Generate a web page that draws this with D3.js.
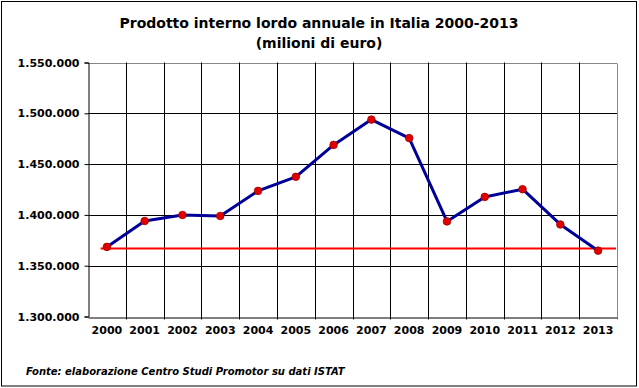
<!DOCTYPE html>
<html>
<head>
<meta charset="utf-8">
<script src="https://cdn.jsdelivr.net/npm/d3@7"></script>
<style>
	body { margin: 0; background: #fff; }
	svg { display: block; font-family: "DejaVu Sans", Verdana, sans-serif; }
</style>
</head>
<body>
<script>
	// PIL annuale, milioni di euro
	var years = ['2000', '2001', '2002', '2003', '2004', '2005', '2006',
		'2007', '2008', '2009', '2010', '2011', '2012', '2013'],
		gdp = [1368500, 1394000, 1399900, 1398900, 1423600, 1437500, 1468900,
			1493800, 1475600, 1393600, 1417700, 1425300, 1390600, 1364800],
		refLevel = [1367000],
		yTicks = [1300000, 1350000, 1400000, 1450000, 1500000, 1550000],
		titleLines = ['Prodotto interno lordo annuale in Italia 2000-2013', '(milioni di euro)'],
		source = 'Fonte: elaborazione Centro Studi Promotor su dati ISTAT';

	var width = 639,
		height = 388,
		plotLeft = 88,
		plotRight = 617,
		plotTop = 62.5,
		plotBottom = 316.5;

	var svg = d3.select('body').append('svg')
		.attr('width', width)
		.attr('height', height);

	// cornice esterna
	svg.append('rect')
		.attr('x', 1.5).attr('y', 1.5)
		.attr('width', 635).attr('height', 384.5)
		.attr('fill', 'none')
		.attr('stroke', '#000')
		.attr('stroke-width', 1);

	svg.selectAll('text.title')
		.data(titleLines)
		.enter().append('text')
		.attr('class', 'title')
		.attr('x', 319)
		.attr('y', function(d, i) { return 28 + i * 20; })
		.attr('text-anchor', 'middle')
		.attr('font-size', '14px')
		.attr('font-weight', 'bold')
		.text(function(d) { return d; });

	var x = d3.scaleBand().domain(years).range([plotLeft, plotRight]),
		y = d3.scaleLinear().domain([1300000, 1550000]).range([plotBottom, plotTop]);

	var it = d3.formatLocale({decimal: ',', thousands: '.', grouping: [3], currency: ['', '€']}),
		fmt = it.format(',.0f');

	// griglia orizzontale
	svg.append('g')
		.selectAll('line')
		.data(yTicks.slice(1))
		.enter().append('line')
		.attr('x1', plotLeft).attr('x2', plotRight)
		.attr('y1', function(d) { return Math.round(y(d)) + 0.5; })
		.attr('y2', function(d) { return Math.round(y(d)) + 0.5; })
		.attr('stroke', function(d, i, n) { return i === n.length - 1 ? '#888' : '#000'; })
		.attr('stroke-width', 1);

	// griglia verticale (confini delle categorie)
	svg.append('g')
		.selectAll('line')
		.data(years.slice(1))
		.enter().append('line')
		.attr('x1', function(d) { return Math.round(x(d)) + 0.5; })
		.attr('x2', function(d) { return Math.round(x(d)) + 0.5; })
		.attr('y1', plotTop).attr('y2', plotBottom + 3)
		.attr('stroke', '#000');

	// bordo destro grigio
	svg.append('line')
		.attr('x1', plotRight + 0.5).attr('x2', plotRight + 0.5)
		.attr('y1', Math.round(y(1550000)) + 0.5).attr('y2', plotBottom + 3)
		.attr('stroke', '#888');

	// asse y
	var yAxis = svg.append('g')
		.attr('transform', 'translate(' + (plotLeft + 0.5) + ',0)')
		.call(d3.axisLeft(y).tickValues(yTicks).tickFormat(fmt).tickSize(4).tickPadding(5));
	yAxis.select('.domain').attr('stroke', '#000');
	yAxis.selectAll('.tick line').attr('stroke', '#000');
	yAxis.selectAll('text')
		.attr('font-size', '11px')
		.attr('font-weight', 'bold')
		.attr('font-family', '"DejaVu Sans", Verdana, sans-serif')
		.attr('fill', '#000');

	// asse x
	var xAxis = svg.append('g')
		.attr('transform', 'translate(0,' + (Math.round(plotBottom) + 0.5) + ')')
		.call(d3.axisBottom(x).tickSize(0).tickPadding(9));
	xAxis.select('.domain').attr('stroke', '#000');
	xAxis.selectAll('text')
		.attr('font-size', '11px')
		.attr('font-weight', 'bold')
		.attr('font-family', '"DejaVu Sans", Verdana, sans-serif')
		.attr('fill', '#000');

	// linea di riferimento (livello 2000)
	svg.selectAll('line.ref')
		.data(refLevel)
		.enter().append('line')
		.attr('class', 'ref')
		.attr('x1', x(years[0]) + x.bandwidth() / 3)
		.attr('x2', plotRight - 1)
		.attr('y1', function(d) { return y(d); })
		.attr('y2', function(d) { return y(d); })
		.attr('stroke', '#ff0000')
		.attr('stroke-width', 2);

	var line = d3.line()
		.x(function(d, i) { return x(years[i]) + x.bandwidth() / 2; })
		.y(function(d) { return y(d); });

	svg.append('path')
		.datum(gdp)
		.attr('d', line)
		.attr('fill', 'none')
		.attr('stroke', '#000099')
		.attr('stroke-width', 3)
		.attr('stroke-linejoin', 'round');

	svg.selectAll('circle')
		.data(gdp)
		.enter().append('circle')
		.attr('cx', function(d, i) { return x(years[i]) + x.bandwidth() / 2; })
		.attr('cy', function(d) { return y(d); })
		.attr('r', 3.8)
		.attr('fill', '#e00000')
		.attr('stroke', '#a00000')
		.attr('stroke-width', 0.8);

	svg.append('text')
		.attr('x', 26)
		.attr('y', 375)
		.attr('font-size', '10px')
		.attr('font-weight', 'bold')
		.attr('font-style', 'italic')
		.text(source);
</script>
</body>
</html>
